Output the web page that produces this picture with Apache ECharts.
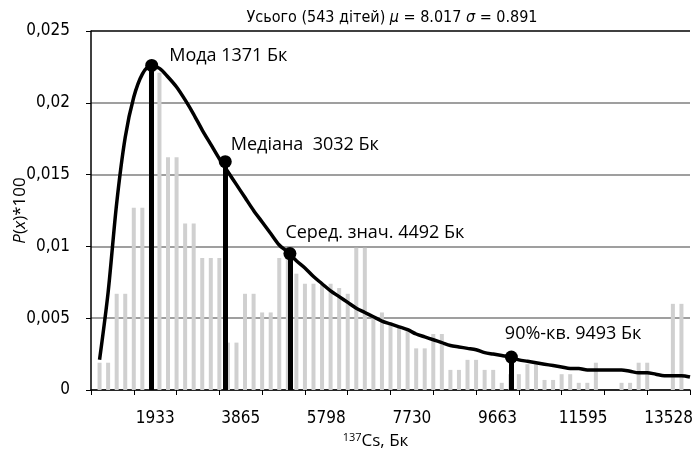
<!DOCTYPE html>
<html>
<head>
<meta charset="utf-8">
<title>Розподіл активності 137Cs</title>
<script src="https://cdn.jsdelivr.net/npm/echarts@6/dist/echarts.min.js"></script>
<style>
  html, body { margin: 0; padding: 0; background: #fff; }
  #chart { width: 692px; height: 452px; }
</style>
</head>
<body>
<div id="chart"></div>
<script>
// Width of one histogram bin, Bq (bin k is plotted at its upper edge k * binWidth)
const binWidth = 193.25;

// Observed histogram, P(x)*100 per bin
const histogram = [
  0.0019, 0.0019, 0.0067, 0.0067, 0.0127, 0.0127, 0.0221, 0.0221, 0.0162, 0.0162,
  0.0116, 0.0116, 0.0092, 0.0092, 0.0092, 0.0033, 0.0033, 0.0067, 0.0067, 0.0054,
  0.0054, 0.0092, 0.0092, 0.0081, 0.0074, 0.0074, 0.0074, 0.0074, 0.0071, 0.0067,
  0.0099, 0.0099, 0.0050, 0.0054, 0.0047, 0.0044, 0.0041, 0.0029, 0.0029, 0.0039,
  0.0039, 0.0014, 0.0014, 0.0021, 0.0021, 0.0014, 0.0014, 0.0005, 0.0011, 0.0011,
  0.0018, 0.0018, 0.0007, 0.0007, 0.0011, 0.0011, 0.0005, 0.0005, 0.0019, 0,
  0,      0.0005, 0.0005, 0.0019, 0.0019, 0,      0,      0.0060, 0.0060, 0
];

// Fitted log-normal density, P(x)*100 at the same bins
const density = [
  0.0021, 0.0068, 0.0130, 0.0176, 0.0204, 0.0220, 0.0226, 0.0224, 0.0218, 0.0211,
  0.0202, 0.0192, 0.0181, 0.0171, 0.0161, 0.0152, 0.0143, 0.0134, 0.0125, 0.0117,
  0.0109, 0.0101, 0.0096, 0.0090, 0.0085, 0.0079, 0.0074, 0.0069, 0.0065, 0.0061,
  0.0057, 0.0054, 0.0051, 0.0048, 0.0046, 0.0044, 0.0042, 0.0039, 0.0037, 0.0035,
  0.0033, 0.0031, 0.0030, 0.0029, 0.0028, 0.0026, 0.0025, 0.0024, 0.0023, 0.0021,
  0.0020, 0.0019, 0.0018, 0.0017, 0.0016, 0.0015, 0.0015, 0.0014, 0.0014, 0.0014,
  0.0014, 0.0014, 0.0013, 0.0012, 0.0012, 0.0011, 0.0010, 0.0010, 0.0010, 0.0009
];

// Distribution statistics
const statNames   = ['Мода', 'Медіана ', 'Серед. знач.', '90%-кв.'];
const statBq      = [1371, 3032, 4492, 9493];
const statDensity = [0.0226, 0.0159, 0.0095, 0.00229];

// Label offsets for the statistics [dx, dy]
const statLabelOffset = [[6, -10], [-6, -17], [-16, -21], [-18, -23]];

// Axis labels
const xTickLabels = ['1933', '3865', '5798', '7730', '9663', '11595', '13528'];
const binsPerMajor = 5;
const binCount = histogram.length;

const narrowFont = "'Liberation Sans Narrow', 'DejaVu Sans Condensed', sans-serif";
const textFont = "'Open Sans', 'Noto Sans', sans-serif";

// Category slots between major ticks; every second one carries a label
const majorCount = binCount / binsPerMajor;
const slotLabels = [];
for (let k = 0; k < majorCount; k++) {
  slotLabels.push(k % 2 === 1 ? xTickLabels[(k - 1) / 2] : '');
}

const chart = echarts.init(document.getElementById('chart'), null, { renderer: 'canvas' });

chart.setOption({
  animation: false,
  backgroundColor: '#ffffff',
  title: {
    text: 'Усього (543 дітей) {i|μ} = 8.017 {i|σ} = 0.891',
    left: 387,
    textAlign: 'center',
    top: 5,
    textStyle: {
      fontFamily: narrowFont,
      fontSize: 16,
      fontWeight: 'normal',
      color: '#000',
      rich: {
        i: { fontFamily: narrowFont, fontSize: 16, fontStyle: 'italic', color: '#000' }
      }
    }
  },
  grid: { left: 91, right: 2, top: 31, bottom: 62, containLabel: false, outerBoundsMode: 'none' },
  xAxis: [
    {
      type: 'value',
      min: 0,
      max: binWidth * binCount,
      interval: binWidth * binsPerMajor,
      axisLine: { show: true, lineStyle: { color: '#000', width: 1.5 } },
      axisTick: { show: true, length: 5, lineStyle: { color: '#000', width: 1 } },
      axisLabel: { show: false },
      splitLine: { show: false }
    },
    {
      type: 'category',
      data: slotLabels,
      position: 'bottom',
      boundaryGap: true,
      axisLine: { show: false },
      axisTick: { show: false },
      axisLabel: {
        interval: 0,
        margin: 20,
        fontFamily: narrowFont,
        fontSize: 17,
        color: '#000'
      },
      name: '{sup|137}{n|Cs, Бк}',
      nameLocation: 'middle',
      nameGap: 42,
      nameMoveOverlap: false,
      nameTextStyle: {
        padding: [0, 30, 0, 0],
        rich: {
          sup: { fontFamily: textFont, fontSize: 11, color: '#000', verticalAlign: 'top', padding: [0, 0, 8, 0] },
          n: { fontFamily: textFont, fontSize: 17, color: '#000' }
        }
      }
    }
  ],
  yAxis: {
    type: 'value',
    min: 0,
    max: 0.025,
    interval: 0.005,
    axisLine: { show: true, lineStyle: { color: '#000', width: 1.5 } },
    axisTick: { show: true, length: 5, lineStyle: { color: '#000' } },
    axisLabel: {
      margin: 21,
      fontFamily: narrowFont,
      fontSize: 17,
      color: '#000',
      formatter: v => String(parseFloat(v.toFixed(3))).replace('.', ',')
    },
    splitLine: {
      show: true,
      lineStyle: { color: ['#7f7f7f', '#7f7f7f', '#7f7f7f', '#7f7f7f', '#7f7f7f', '#000'], width: 1.5 }
    },
    name: '{i|P}{n|(}{i|x}{n|)*100}',
    nameLocation: 'middle',
    nameGap: 62,
    nameMoveOverlap: false,
    nameTextStyle: {
      rich: {
        i: { fontFamily: textFont, fontSize: 17, fontStyle: 'italic', color: '#000' },
        n: { fontFamily: textFont, fontSize: 17, color: '#000' }
      }
    }
  },
  series: [
    {
      name: 'Гістограма',
      type: 'bar',
      xAxisIndex: 0,
      barWidth: 4,
      silent: true,
      itemStyle: { color: '#d0d0d0' },
      data: histogram.map((v, i) => [binWidth * (i + 1), v])
    },
    {
      name: 'Щільність',
      type: 'line',
      xAxisIndex: 0,
      smooth: 0.3,
      showSymbol: false,
      silent: true,
      lineStyle: { color: '#000', width: 3.5 },
      data: density.map((v, i) => [binWidth * (i + 1), v]),
      z: 3
    },
    {
      name: 'Статистики',
      type: 'scatter',
      xAxisIndex: 0,
      symbol: 'circle',
      symbolSize: 13,
      silent: true,
      itemStyle: { color: '#000', opacity: 1 },
      z: 5,
      data: statBq.map((x, k) => ({
        value: [x, statDensity[k]],
        label: {
          show: true,
          position: 'right',
          offset: statLabelOffset[k],
          formatter: statNames[k] + ' ' + x + ' Бк',
          fontFamily: textFont,
          fontSize: 18,
          color: '#000',
          opacity: 1
        }
      })),
      markLine: {
        silent: true,
        symbol: 'none',
        label: { show: false },
        lineStyle: { color: '#000', width: 5, type: 'solid', opacity: 1 },
        data: statBq.map((x, k) => [
          { coord: [x, 0] },
          { coord: [x, statDensity[k]] }
        ])
      }
    }
  ]
});
</script>
</body>
</html>
